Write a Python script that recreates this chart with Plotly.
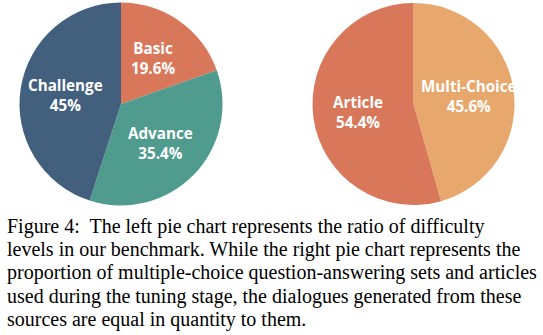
import math
import plotly.graph_objects as go

# Left pie: difficulty levels
diff_labels = ["Basic", "Advance", "Challenge"]
diff_values = [19.6, 35.4, 45]
diff_colors = ["#D9775A", "#4F9C8E", "#42607E"]

# Right pie: tuning sources
src_labels = ["Multi-Choice", "Article"]
src_values = [45.6, 54.4]
src_colors = ["#E8A76C", "#D9775A"]

caption_lines = [
    "Figure 4:  The left pie chart represents the ratio of difficulty",
    "levels in our benchmark. While the right pie chart represents the",
    "proportion of multiple-choice question-answering sets and articles",
    "used during the tuning stage, the dialogues generated from these",
    "sources are equal in quantity to them.",
]

W, H = 543, 335
pies = [
    (diff_labels, diff_values, diff_colors, (121.0, 104.0), 101.5),
    (src_labels, src_values, src_colors, (413.5, 104.0), 101.0),
]

fig = go.Figure()
for labels, values, colors, (cx, cy), r in pies:
    fig.add_trace(go.Pie(
        labels=labels, values=values, sort=False, direction="clockwise",
        rotation=0, marker=dict(colors=colors, line=dict(width=0)),
        textinfo="none", hoverinfo="skip", showlegend=False,
        domain=dict(x=[(cx - r) / W, (cx + r) / W], y=[1 - (cy + r) / H, 1 - (cy - r) / H]),
    ))
    # slice labels at the middle angle of each slice
    total = sum(values)
    cum = 0.0
    for lab, v in zip(labels, values):
        mid = (cum + v / 2) / total * 2 * math.pi
        cum += v
        px = cx + 0.55 * r * math.sin(mid)
        py = cy - 0.55 * r * math.cos(mid)
        fig.add_annotation(
            text=f"<b>{lab}</b><br><b>{v:g}%</b>", xref="paper", yref="paper",
            x=px / W, y=1 - py / H, xanchor="center", yanchor="middle",
            showarrow=False, align="center",
            font=dict(family="Open Sans", size=15.2, color="white"),
        )

line_h = 23.2
first_base = 231.5
for i, line in enumerate(caption_lines):
    base = first_base + i * line_h
    fig.add_annotation(
        text=line, xref="paper", yref="paper", x=5 / W, y=1 - (base - 5) / H,
        xanchor="left", yanchor="middle", showarrow=False,
        font=dict(family="Liberation Serif", size=20, color="black"),
    )

fig.update_layout(
    width=W, height=H, margin=dict(l=0, r=0, t=0, b=0),
    paper_bgcolor="white", plot_bgcolor="white",
)
fig.write_html("out.html")
